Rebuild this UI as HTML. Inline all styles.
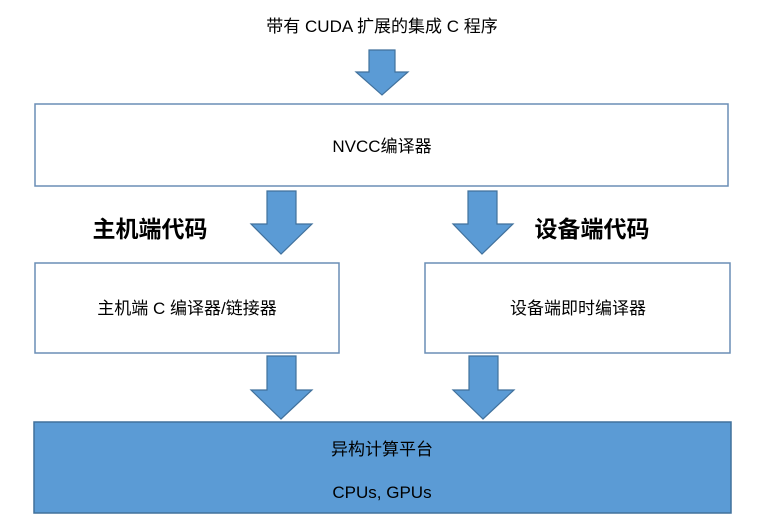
<!DOCTYPE html>
<html><head><meta charset="utf-8"><style>
body{margin:0;background:#fff;}
svg{display:block;}
text{font-family:"Liberation Sans","Noto Sans CJK SC",sans-serif;fill:#000;}
</style></head><body>
<svg width="781" height="525" viewBox="0 0 781 525">
<g fill="#5B9BD5" stroke="#41719C" stroke-width="1.2">
<polygon points="369,50 395,50 395,72 408,72 382,95 356,72 369,72"/>
<polygon points="267,191 296,191 296,224 312,224 281,254 251,224 267,224"/>
<polygon points="468,191 497,191 497,224 513,224 482,254 453,224 468,224"/>
<polygon points="267,356 296,356 296,390 312,390 281,419 251,390 267,390"/>
<polygon points="469,356 498,356 498,390 514,390 483,419 453,390 469,390"/>
</g>
<g fill="#fff" stroke="#6A8EB5" stroke-width="1.5">
<rect x="35" y="104" width="693" height="82"/>
<rect x="35" y="263" width="304" height="90"/>
<rect x="425" y="263" width="305" height="90"/>
</g>
<rect x="34" y="422" width="697" height="91" fill="#5B9BD5" stroke="#41719C" stroke-width="1.5"/>
<text x="382" y="32" font-size="17" text-anchor="middle">带有 CUDA 扩展的集成 C 程序</text>
<text x="382" y="152" font-size="17" text-anchor="middle">NVCC编译器</text>
<text x="150" y="237" font-size="23" font-weight="bold" text-anchor="middle">主机端代码</text>
<text x="592" y="237" font-size="23" font-weight="bold" text-anchor="middle">设备端代码</text>
<text x="187" y="314" font-size="17" text-anchor="middle">主机端 C 编译器/链接器</text>
<text x="578" y="314" font-size="17" text-anchor="middle">设备端即时编译器</text>
<text x="382" y="455" font-size="17" text-anchor="middle">异构计算平台</text>
<text x="382" y="498" font-size="17" text-anchor="middle">CPUs, GPUs</text>
</svg>
</body></html>
